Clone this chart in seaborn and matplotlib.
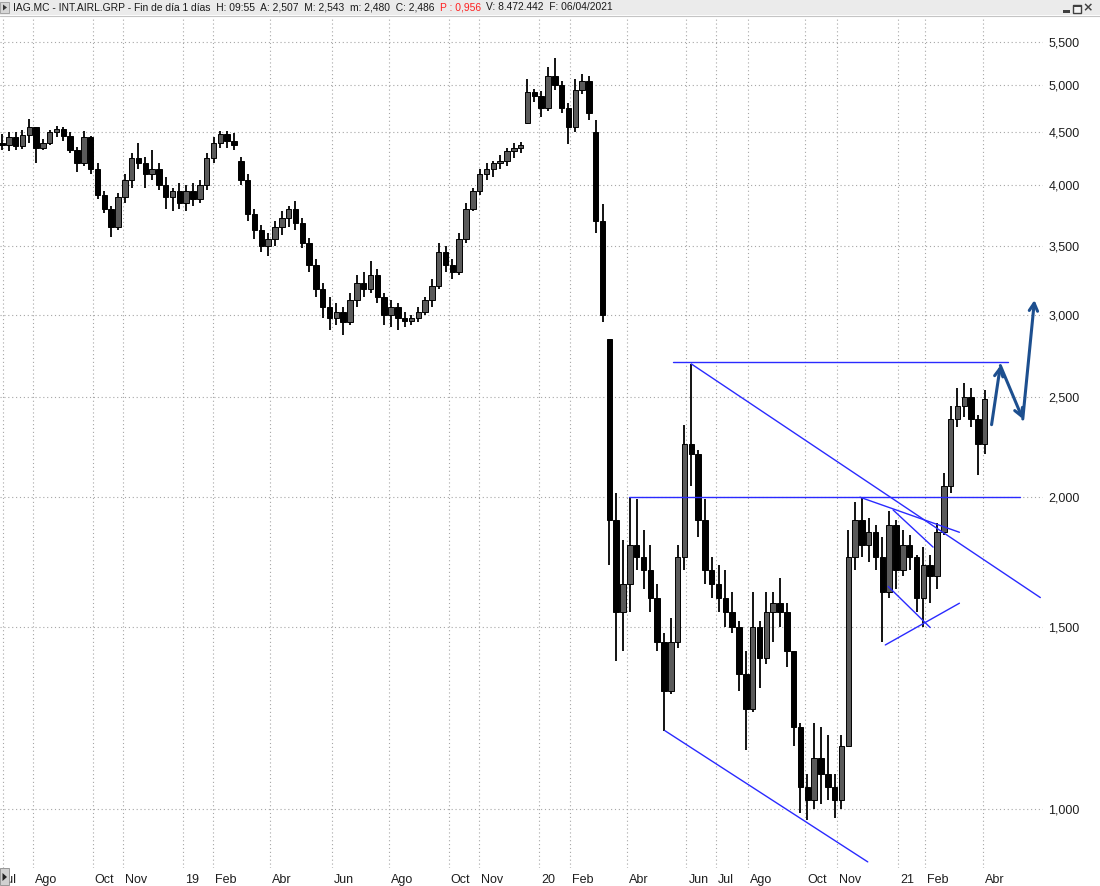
import matplotlib
matplotlib.use("Agg")
import matplotlib.pyplot as plt
import matplotlib.dates as mdates
from matplotlib.patches import Rectangle, Polygon
from matplotlib.lines import Line2D
from matplotlib.ticker import FixedLocator, NullLocator, FuncFormatter
import seaborn as sns
import numpy as np
import pandas as pd

W, H = 1100, 886

# velas semanales (EUR)
opens = [4.40, 4.38, 4.45, 4.37, 4.47, 4.55, 4.35, 4.40, 4.50, 4.53,
         4.46, 4.33, 4.20, 4.45, 4.15, 3.92, 3.80, 3.65, 3.90, 4.05,
         4.25, 4.20, 4.10, 4.15, 4.00, 3.90, 3.95, 3.85, 3.95, 3.88,
         4.00, 4.25, 4.40, 4.48, 4.42, 4.22, 4.05, 3.75, 3.62, 3.50,
         3.55, 3.65, 3.72, 3.80, 3.68, 3.52, 3.35, 3.18, 3.05, 2.98,
         3.02, 2.95, 3.10, 3.22, 3.18, 3.28, 3.12, 3.00, 3.05, 2.98,
         2.96, 2.98, 3.02, 3.10, 3.20, 3.45, 3.35, 3.30, 3.55, 3.80,
         3.95, 4.10, 4.15, 4.20, 4.22, 4.32, 4.35, 4.60, 4.92, 4.88,
         4.75, 5.10, 5.00, 4.75, 4.55, 4.95, 5.05, 4.50, 3.70, 2.84,
         1.90, 1.55, 1.65, 1.80, 1.75, 1.70, 1.60, 1.45, 1.30, 1.45,
         1.75, 2.25, 2.20, 1.90, 1.70, 1.65, 1.60, 1.55, 1.50, 1.35,
         1.25, 1.50, 1.40, 1.55, 1.58, 1.55, 1.42, 1.20, 1.05, 1.02,
         1.12, 1.08, 1.05, 1.02, 1.15, 1.75, 1.90, 1.80, 1.85, 1.75,
         1.62, 1.88, 1.70, 1.80, 1.75, 1.60, 1.72, 1.68, 1.85, 2.05,
         2.38, 2.45, 2.50, 2.38, 2.25]
highs = [4.48, 4.50, 4.50, 4.52, 4.64, 4.56, 4.44, 4.52, 4.57, 4.56,
         4.50, 4.36, 4.51, 4.46, 4.20, 3.95, 3.82, 3.93, 4.10, 4.30,
         4.40, 4.26, 4.33, 4.20, 4.08, 3.98, 4.02, 4.00, 4.02, 4.05,
         4.30, 4.45, 4.51, 4.51, 4.49, 4.26, 4.10, 3.80, 3.66, 3.60,
         3.70, 3.78, 3.82, 3.86, 3.72, 3.56, 3.40, 3.22, 3.12, 3.08,
         3.05, 3.15, 3.28, 3.30, 3.38, 3.32, 3.15, 3.10, 3.08, 3.02,
         3.00, 3.05, 3.12, 3.25, 3.52, 3.50, 3.40, 3.60, 3.85, 3.98,
         4.15, 4.20, 4.22, 4.28, 4.35, 4.40, 4.41, 5.07, 4.96, 4.94,
         5.20, 5.31, 5.05, 4.80, 5.07, 5.13, 5.10, 4.63, 3.84, 2.84,
         2.02, 1.82, 2.00, 1.99, 1.86, 1.80, 1.65, 1.48, 1.53, 1.80,
         2.35, 2.69, 2.22, 1.99, 1.75, 1.72, 1.70, 1.62, 1.52, 1.42,
         1.62, 1.52, 1.62, 1.62, 1.67, 1.58, 1.42, 1.21, 1.08, 1.21,
         1.20, 1.18, 1.08, 1.18, 1.86, 1.98, 2.00, 1.91, 1.88, 1.83,
         1.94, 1.90, 1.86, 1.84, 1.76, 1.79, 1.76, 1.89, 2.11, 2.45,
         2.55, 2.58, 2.55, 2.40, 2.54]
lows = [4.33, 4.32, 4.33, 4.34, 4.40, 4.20, 4.33, 4.38, 4.45, 4.42,
        4.30, 4.12, 4.18, 4.10, 3.88, 3.76, 3.57, 3.62, 3.85, 3.98,
        4.15, 3.98, 4.05, 3.96, 3.80, 3.78, 3.80, 3.78, 3.82, 3.85,
        3.96, 4.20, 4.35, 4.35, 4.33, 4.00, 3.70, 3.55, 3.45, 3.42,
        3.50, 3.58, 3.65, 3.62, 3.48, 3.30, 3.12, 2.98, 2.90, 2.93,
        2.87, 2.93, 3.05, 3.12, 3.15, 3.08, 2.93, 2.92, 2.90, 2.92,
        2.93, 2.95, 3.00, 3.05, 3.18, 3.30, 3.25, 3.28, 3.52, 3.78,
        3.92, 4.05, 4.08, 4.15, 4.18, 4.25, 4.30, 4.59, 4.82, 4.66,
        4.72, 4.95, 4.70, 4.39, 4.50, 4.90, 4.63, 3.60, 2.95, 1.72,
        1.39, 1.42, 1.55, 1.70, 1.63, 1.55, 1.42, 1.19, 1.29, 1.43,
        1.70, 2.05, 1.83, 1.65, 1.60, 1.55, 1.50, 1.48, 1.30, 1.14,
        1.24, 1.31, 1.38, 1.45, 1.50, 1.37, 1.15, 0.99, 0.976, 1.00,
        1.01, 1.02, 0.98, 1.00, 1.15, 1.70, 1.75, 1.73, 1.70, 1.45,
        1.60, 1.63, 1.68, 1.70, 1.55, 1.50, 1.58, 1.63, 1.84, 2.02,
        2.34, 2.39, 2.34, 2.10, 2.20]
closes = [4.38, 4.45, 4.37, 4.47, 4.55, 4.35, 4.40, 4.50, 4.53, 4.46,
          4.33, 4.20, 4.45, 4.15, 3.92, 3.80, 3.65, 3.90, 4.05, 4.25,
          4.20, 4.10, 4.15, 4.00, 3.90, 3.95, 3.85, 3.95, 3.88, 4.00,
          4.25, 4.40, 4.48, 4.42, 4.38, 4.05, 3.75, 3.62, 3.50, 3.55,
          3.65, 3.72, 3.80, 3.68, 3.52, 3.35, 3.18, 3.05, 2.98, 3.02,
          2.95, 3.10, 3.22, 3.18, 3.28, 3.12, 3.00, 3.05, 2.98, 2.96,
          2.98, 3.02, 3.10, 3.20, 3.45, 3.35, 3.30, 3.55, 3.80, 3.95,
          4.10, 4.15, 4.20, 4.22, 4.32, 4.35, 4.38, 4.92, 4.88, 4.75,
          5.10, 5.00, 4.75, 4.55, 4.95, 5.05, 4.70, 3.70, 3.00, 1.90,
          1.55, 1.65, 1.80, 1.75, 1.70, 1.60, 1.45, 1.30, 1.45, 1.75,
          2.25, 2.20, 1.90, 1.70, 1.65, 1.60, 1.55, 1.50, 1.35, 1.25,
          1.50, 1.40, 1.55, 1.58, 1.55, 1.42, 1.20, 1.05, 1.02, 1.12,
          1.08, 1.05, 1.02, 1.15, 1.75, 1.90, 1.80, 1.85, 1.75, 1.62,
          1.88, 1.70, 1.80, 1.75, 1.60, 1.72, 1.68, 1.85, 2.05, 2.38,
          2.45, 2.50, 2.38, 2.25, 2.486]
week_dates = pd.date_range("2018-06-30", periods=len(closes), freq="7D")

# lineas de tendencia dibujadas a mano
trend_start = ["2020-05-18", "2020-06-06", "2020-04-03", "2020-05-10",
               "2020-11-26", "2020-12-30", "2020-12-25", "2020-12-22"]
trend_start_price = [2.70, 2.69, 2.00, 1.19, 2.00, 1.944, 1.64, 1.44]
trend_end = ["2021-04-27", "2021-05-30", "2021-05-09", "2020-12-04",
             "2021-03-08", "2021-02-09", "2021-02-06", "2021-03-08"]
trend_end_price = [2.70, 1.60, 2.00, 0.889, 1.85, 1.79, 1.497, 1.58]

# flecha de proyeccion
arrow_dates = ["2021-04-10", "2021-04-19", "2021-05-12", "2021-05-24"]
arrow_prices = [2.35, 2.68, 2.38, 3.10]

y_ticks = [1.0, 1.5, 2.0, 2.5, 3.0, 3.5, 4.0, 4.5, 5.0, 5.5]
month_dates = ["2018-07-01", "2018-08-01", "2018-10-01", "2018-11-01", "2019-01-02",
               "2019-02-01", "2019-04-01", "2019-06-03", "2019-08-01", "2019-10-01",
               "2019-11-01", "2020-01-02", "2020-02-03", "2020-04-01", "2020-06-01",
               "2020-07-01", "2020-08-03", "2020-10-01", "2020-11-02", "2021-01-04",
               "2021-02-01", "2021-04-01"]
month_labels = ["Jul", "Ago", "Oct", "Nov", "19", "Feb", "Abr", "Jun", "Ago", "Oct",
                "Nov", "20", "Feb", "Abr", "Jun", "Jul", "Ago", "Oct", "Nov", "21",
                "Feb", "Abr"]

header_parts = [
    ("IAG.MC - INT.AIRL.GRP - Fin de día 1 días  H: 09:55  A: 2,507  M: 2,543  m: 2,480  C: 2,486", "#1a1a1a"),
    ("P : 0,956", "#ff2020"),
    ("V: 8.472.442  F: 06/04/2021", "#1a1a1a"),
]

sns.set_style("white")
plt.rcParams["font.family"] = ["Liberation Sans", "DejaVu Sans"]

d0 = pd.Timestamp("2018-06-28")
px_per_day = 0.975
ax_w = 1043


def fig_xy(x, y):
    return x / W, 1 - y / H


fig = plt.figure(figsize=(W / 100, H / 100), dpi=100)
fig.patch.set_facecolor("white")
ax = fig.add_axes([0, 1 - 868 / H, ax_w / W, (868 - 16) / H])
ax.set_facecolor("white")
ax.set_yscale("log")

x0 = mdates.date2num(d0)
xmax = x0 + ax_w / px_per_day

# velas
xs = mdates.date2num(week_dates)
o = np.array(opens)
h = np.array(highs)
l = np.array(lows)
c = np.array(closes)
ax.vlines(xs, l, h, color="black", lw=1.3, zorder=3)
up = c >= o
body_lo = np.minimum(o, c)
body_h = np.maximum(np.abs(c - o), 0.015)
ax.bar(xs[up], body_h[up], bottom=body_lo[up], width=5.6, color="#5a5a5a",
       edgecolor="black", linewidth=0.7, zorder=4)
ax.bar(xs[~up], body_h[~up], bottom=body_lo[~up], width=5.6, color="black",
       edgecolor="black", linewidth=0.7, zorder=4)

# tendencias con seaborn
tx, ty, tid = [], [], []
for i in range(len(trend_start)):
    tx += [mdates.date2num(pd.Timestamp(trend_start[i])), mdates.date2num(pd.Timestamp(trend_end[i]))]
    ty += [trend_start_price[i], trend_end_price[i]]
    tid += [i, i]
trend_df = pd.DataFrame({"line": tid, "x": tx, "price": ty})
sns.lineplot(data=trend_df, x="x", y="price", units="line", estimator=None,
             sort=False, color="#2a2aff", lw=1.0, ax=ax, zorder=5)

ax_dates = [mdates.date2num(pd.Timestamp(d)) for d in arrow_dates]
for i in range(len(ax_dates) - 1):
    ax.annotate("", xy=(ax_dates[i + 1], arrow_prices[i + 1]),
                xytext=(ax_dates[i], arrow_prices[i]),
                arrowprops=dict(arrowstyle="->,head_length=0.55,head_width=0.3",
                                color="#1d4f8f", lw=2.2, shrinkA=0, shrinkB=0),
                zorder=6)

ax.set_xlim(x0, xmax)
ax.set_ylim(0.877, 5.83)
ax.set_xlabel("")
ax.set_ylabel("")

grid_kw = dict(color="#a6a6a6", lw=0.8, ls=(0, (1, 2.5)))
ax.set_axisbelow(True)
ax.yaxis.set_major_locator(FixedLocator(y_ticks))
ax.yaxis.set_minor_locator(NullLocator())
ax.yaxis.set_major_formatter(FuncFormatter(lambda v, p: f"{v:.3f}".replace(".", ",")))
ax.yaxis.tick_right()
ax.tick_params(axis="y", length=0, pad=4, labelsize=9, colors="#1e1e1e")
ax.set_xticks([mdates.date2num(pd.Timestamp(d)) for d in month_dates])
ax.tick_params(axis="x", length=0, labelbottom=False)
ax.grid(True, axis="both", **grid_kw)
for s in ax.spines.values():
    s.set_visible(False)

# etiquetas del eje x, alineadas a la izquierda de cada linea
for d, lab in zip(month_dates, month_labels):
    xp = (pd.Timestamp(d) - d0).days * px_per_day + 2
    if xp < 10:
        xp = 1
    fig.text(*fig_xy(xp, 880), lab, fontsize=9, color="#1e1e1e", ha="left", va="center")

# cabecera
fig.add_artist(Rectangle(fig_xy(0, 15), 1, 15 / H, transform=fig.transFigure,
                         facecolor="#ebebeb", edgecolor="none", zorder=10))
fig.add_artist(Line2D([0, 1], [1 - 15.5 / H] * 2, transform=fig.transFigure,
                      color="#c4c4c4", lw=0.8, zorder=11))
fig.add_artist(Rectangle(fig_xy(0, 13), 9 / W, 11 / H, transform=fig.transFigure,
                         facecolor="#d6d6d6", edgecolor="#9a9a9a", lw=0.6, zorder=11))
fig.add_artist(Polygon([fig_xy(3, 4.5), fig_xy(3, 10.5), fig_xy(7, 7.5)], closed=True,
                       transform=fig.transFigure, facecolor="#333333", edgecolor="none", zorder=12))

renderer = fig.canvas.get_renderer()
xpos = 13
for txt, col in header_parts:
    t = fig.text(*fig_xy(xpos, 7.5), txt, fontsize=7.4, color=col, ha="left", va="center", zorder=12)
    bb = t.get_window_extent(renderer)
    xpos = bb.x1 + 5

# botones de ventana
fig.add_artist(Rectangle(fig_xy(1063, 12.5), 7 / W, 2.5 / H, transform=fig.transFigure,
                         facecolor="#404040", edgecolor="none", zorder=12))
fig.add_artist(Rectangle(fig_xy(1073, 12.5), 8 / W, 8 / H, transform=fig.transFigure,
                         facecolor="#f4f4f4", edgecolor="#404040", lw=1.0, zorder=12))
fig.add_artist(Rectangle(fig_xy(1073, 6.5), 8 / W, 2 / H, transform=fig.transFigure,
                         facecolor="#404040", edgecolor="none", zorder=13))
fig.text(*fig_xy(1088, 8), "×", fontsize=9, fontweight="bold", color="#404040",
         ha="center", va="center", family="DejaVu Sans", zorder=12)

# boton inferior izquierdo
fig.add_artist(Rectangle(fig_xy(0, 885), 9 / W, 17 / H, transform=fig.transFigure,
                         facecolor="#d0d0d0", edgecolor="#8a8a8a", lw=0.6, zorder=11))
fig.add_artist(Polygon([fig_xy(2.5, 873), fig_xy(2.5, 881), fig_xy(7, 877)], closed=True,
                       transform=fig.transFigure, facecolor="#222222", edgecolor="none", zorder=12))

fig.savefig("out.png", dpi=100, facecolor="white")
